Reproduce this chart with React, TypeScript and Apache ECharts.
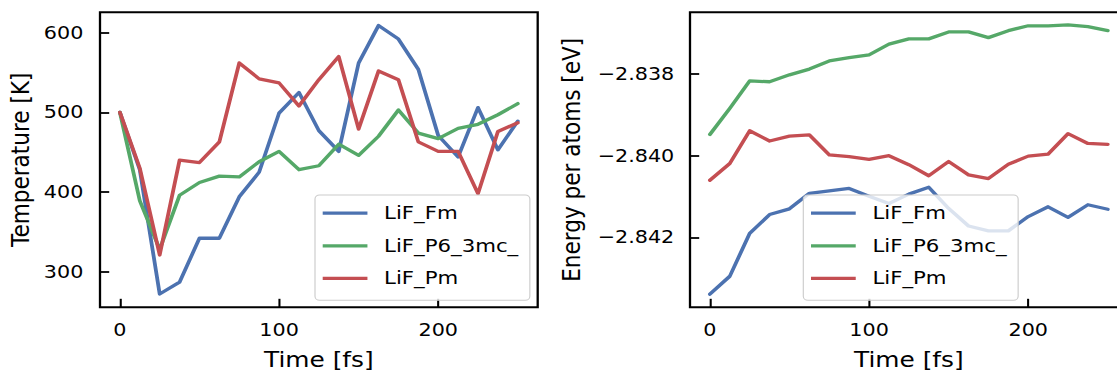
import React, { useEffect, useRef } from "react";
import * as echarts from "echarts";

const seriesNames = ["LiF_Fm", "LiF_P6_3mc_", "LiF_Pm"];
const seriesColors = ["#4c72b0", "#55a868", "#c44e52"];

const timeFs = [0, 12.5, 25, 37.5, 50, 62.5, 75, 87.5, 100, 112.5, 125, 137.5, 150, 162.5, 175, 187.5, 200, 212.5, 225, 237.5, 250];

const tempFm = [500, 428, 272, 287, 342, 342, 394, 425, 499, 525, 477, 451, 562, 609, 592, 554, 471, 444, 506, 453, 489];
const tempP6 = [500, 389, 328, 396, 412, 420, 419, 438, 451, 428, 433, 460, 446, 470, 503, 474, 467, 480, 485, 497, 511];
const tempPm = [500, 430, 321, 440, 437, 463, 562, 542, 537, 508, 541, 570, 479, 552, 541, 463, 451, 451, 398, 476, 487];

const energyFm = [-2.84339, -2.84295, -2.8419, -2.84144, -2.8413, -2.84092, -2.84086, -2.8408, -2.84099, -2.84117, -2.84094, -2.84077, -2.84129, -2.84172, -2.84184, -2.84184, -2.84149, -2.84125, -2.84151, -2.8412, -2.84131];
const energyP6 = [-2.83948, -2.83884, -2.83817, -2.83819, -2.83802, -2.83788, -2.83768, -2.8376, -2.83753, -2.83727, -2.83714, -2.83714, -2.83697, -2.83697, -2.83711, -2.83694, -2.83682, -2.83682, -2.8368, -2.83684, -2.83694];
const energyPm = [-2.8406, -2.84019, -2.83939, -2.83964, -2.83952, -2.83949, -2.83998, -2.84002, -2.84009, -2.84, -2.84022, -2.84049, -2.84014, -2.84047, -2.84056, -2.84021, -2.84001, -2.83996, -2.83946, -2.8397, -2.83972];

const xTicks = [0, 100, 200];
const tempTicks = [300, 400, 500, 600];
const energyTicks = [-2.842, -2.84, -2.838];

const S = 1.15; // horizontal stretch of the reference
const FONT = "DejaVu Sans";

export default function App() {
  const ref = useRef<HTMLDivElement>(null);
  useEffect(() => {
    if (!ref.current) return;
    const chart = echarts.init(ref.current, undefined, { renderer: "svg" });
    const pair = (ys: number[]) => timeFs.map((t, i) => [t, ys[i]]);
    const tempData = [tempFm, tempP6, tempPm];
    const energyData = [energyFm, energyP6, energyPm];

    const xAxisCommon = (gridIndex: number) => ({
      type: "value",
      gridIndex,
      position: "bottom",
      min: -12.5,
      max: 262.5,
      name: "Time [fs]",
      nameLocation: "middle",
      nameGap: 41,
      nameTextStyle: { fontFamily: FONT, fontSize: 21.6, color: "#000" },
      axisLine: { show: false, onZero: false },
      splitLine: { show: false },
      axisTick: { show: true, inside: true, length: 8.5, lineStyle: { color: "#000", width: 1.8 }, customValues: xTicks },
      axisLabel: { show: true, margin: 14, fontFamily: FONT, fontSize: 18, color: "#000", customValues: xTicks },
    });

    const legendCommon = (left: number) => ({
      orient: "vertical",
      left,
      top: 195,
      padding: [8.7, 10, 12.3, 6.7],
      itemWidth: 38.9,
      itemHeight: 3.3,
      itemGap: 13.6,
      icon: "rect",
      selectedMode: false,
      backgroundColor: "rgba(255,255,255,0.8)",
      borderColor: "#cccccc",
      borderWidth: 1,
      borderRadius: 4,
      textStyle: { fontFamily: FONT, fontSize: 18.5, color: "#000", lineHeight: 18, padding: [0, 0, 0, 9.5] },
      data: seriesNames,
    });

    const gridCommon = (left: number) => ({
      left,
      top: 12.3,
      width: 437.7 / S,
      height: 295,
      containLabel: false,
      outerBoundsMode: "none",
      show: true,
      borderColor: "#000",
      borderWidth: 2,
      backgroundColor: "transparent",
    });

    chart.setOption({
      animation: false,
      backgroundColor: "#fff",
      grid: [gridCommon(100 / S), gridCommon(690 / S)],
      xAxis: [xAxisCommon(0), xAxisCommon(1)],
      yAxis: [
        {
          type: "value",
          gridIndex: 0,
          position: "left",
          min: 255.3,
          max: 625.6,
          name: "Temperature [K]",
          nameLocation: "middle",
          nameGap: 58.4,
          nameTextStyle: { fontFamily: FONT, fontSize: 21.6, color: "#000" },
          axisLine: { show: false, onZero: false },
          splitLine: { show: false },
          axisTick: { show: true, inside: true, length: 8, lineStyle: { color: "#000", width: 1.8 }, customValues: tempTicks },
          axisLabel: { show: true, margin: 14.5, fontFamily: FONT, fontSize: 18, color: "#000", customValues: tempTicks },
        },
        {
          type: "value",
          gridIndex: 1,
          position: "left",
          min: -2.84371,
          max: -2.83649,
          name: "Energy per atoms [eV]",
          nameLocation: "middle",
          nameGap: 92.5,
          nameTextStyle: { fontFamily: FONT, fontSize: 21.6, color: "#000" },
          axisLine: { show: false, onZero: false },
          splitLine: { show: false },
          axisTick: { show: true, inside: true, length: 8, lineStyle: { color: "#000", width: 1.8 }, customValues: energyTicks },
          axisLabel: {
            show: true,
            margin: 13.7,
            fontFamily: FONT,
            fontSize: 18,
            color: "#000",
            customValues: energyTicks,
            formatter: (v: number) => (v < 0 ? "\u2212" : "") + Math.abs(v).toFixed(3),
          },
        },
      ],
      legend: [legendCommon(315 / S), legendCommon(803.3 / S)],
      series: [
        ...seriesNames.map((name, i) => ({
          name,
          type: "line",
          xAxisIndex: 0,
          yAxisIndex: 0,
          data: pair(tempData[i]),
          showSymbol: false,
          symbol: "none",
          color: seriesColors[i],
          lineStyle: { color: seriesColors[i], width: 3.3, cap: "round", join: "round" },
        })),
        ...seriesNames.map((name, i) => ({
          name,
          type: "line",
          xAxisIndex: 1,
          yAxisIndex: 1,
          data: pair(energyData[i]),
          showSymbol: false,
          symbol: "none",
          color: seriesColors[i],
          lineStyle: { color: seriesColors[i], width: 3.3, cap: "round", join: "round" },
        })),
      ],
    });
    return () => chart.dispose();
  }, []);

  return (
    <div style={{ position: "fixed", left: 0, top: 0, width: 1117, height: 375, overflow: "hidden", background: "#fff" }}>
      <div
        ref={ref}
        style={{ width: Math.ceil(1117 / S) + 1, height: 375, transform: `scaleX(${S})`, transformOrigin: "0 0" }}
      />
    </div>
  );
}
